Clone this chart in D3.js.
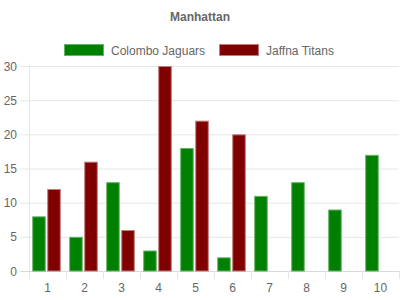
<!DOCTYPE html>
<html lang="en">
<head>
<meta charset="utf-8">
<title>Manhattan</title>
<script src="https://cdn.jsdelivr.net/npm/d3@7"></script>
<style>
  body { margin: 0; background: #fff; }
  text { font-family: "Liberation Sans", Arial, Helvetica, sans-serif; fill: #666; }
</style>
</head>
<body>
<div id="chart"></div>
<script>
// data
const overs = ["1", "2", "3", "4", "5", "6", "7", "8", "9", "10"];
const teams = ["Colombo Jaguars", "Jaffna Titans"];
const colomboRuns = [8, 5, 13, 3, 18, 2, 11, 13, 9, 17];
const jaffnaRuns = [12, 16, 6, 30, 22, 20, null, null, null, null];
const yTicks = [0, 5, 10, 15, 20, 25, 30];

const fills = ["#008000", "#800000"];
const borders = ["#66b366", "#c07a7a"];

const width = 400, height = 300;
const plotLeft = 29, plotRight = 399, plotTop = 66, plotBottom = 271;

const svg = d3.select("#chart").append("svg")
  .attr("width", width)
  .attr("height", height);

// title
svg.append("text")
  .attr("x", 200).attr("y", 21)
  .attr("text-anchor", "middle")
  .style("font-size", "12px")
  .style("font-weight", "bold")
  .text("Manhattan");

// legend
let lx = 64;
teams.forEach((t, i) => {
  const g = svg.append("g").attr("transform", `translate(${lx},44)`);
  g.append("rect")
    .attr("x", 0.5).attr("y", 0.5)
    .attr("width", 39).attr("height", 11)
    .attr("fill", fills[i])
    .attr("stroke", borders[i]);
  const txt = g.append("text")
    .attr("x", 47).attr("y", 10.5)
    .style("font-size", "12px")
    .text(t);
  lx += 47 + txt.node().getComputedTextLength() + 14;
});

const x0 = d3.scaleBand().domain(overs).range([plotLeft, plotRight]);
const x1 = d3.scaleBand().domain(teams).range([0, x0.bandwidth()])
  .paddingInner(0.1).paddingOuter(0.28).align(0.38);
const y = d3.scaleLinear().domain([0, 30]).range([plotBottom, plotTop]);

// horizontal grid + y labels
svg.append("g")
  .attr("transform", `translate(${plotRight},0)`)
  .call(g => {
    g.call(d3.axisLeft(y).tickValues(yTicks).tickSize(plotRight - 20).tickPadding(3));
    g.select(".domain").remove();
    g.selectAll(".tick line").attr("stroke", "#e6e6e6");
    g.selectAll(".tick text")
      .attr("x", -(plotRight - 17))
      .attr("dy", "0.34em")
      .style("font-size", "12px")
      .style("fill", "#666");
  });

// x axis: left axis line, baseline, ticks between categories
const xg = svg.append("g");
xg.append("line")
  .attr("x1", plotLeft + 0.5).attr("x2", plotLeft + 0.5)
  .attr("y1", plotTop).attr("y2", plotBottom + 8)
  .attr("stroke", "#e6e6e6");
xg.append("line")
  .attr("x1", 20).attr("x2", plotRight)
  .attr("y1", plotBottom + 0.5).attr("y2", plotBottom + 0.5)
  .attr("stroke", "#d9d9d9");
xg.selectAll(".sep")
  .data(overs)
  .enter()
  .append("line")
  .attr("x1", d => Math.round(x0(d) + x0.bandwidth()) + 0.5)
  .attr("x2", d => Math.round(x0(d) + x0.bandwidth()) + 0.5)
  .attr("y1", plotBottom).attr("y2", plotBottom + 8)
  .attr("stroke", "#e6e6e6");
xg.selectAll(".lbl")
  .data(overs)
  .enter()
  .append("text")
  .attr("x", d => x0(d) + x0.bandwidth() / 2)
  .attr("y", 292)
  .attr("text-anchor", "middle")
  .style("font-size", "12px")
  .text(d => d);

// bars
const series = [colomboRuns, jaffnaRuns];
series.forEach((vals, si) => {
  svg.append("g")
    .selectAll("rect")
    .data(vals.map((v, i) => ({ over: overs[i], v: v })).filter(d => d.v != null))
    .enter()
    .append("rect")
    .attr("x", d => x0(d.over) + x1(teams[si]) + 0.5)
    .attr("y", d => y(d.v) + 0.5)
    .attr("width", x1.bandwidth() - 1)
    .attr("height", d => y(0) - y(d.v) - 0.5)
    .attr("fill", fills[si])
    .attr("stroke", borders[si]);
});
</script>
</body>
</html>
